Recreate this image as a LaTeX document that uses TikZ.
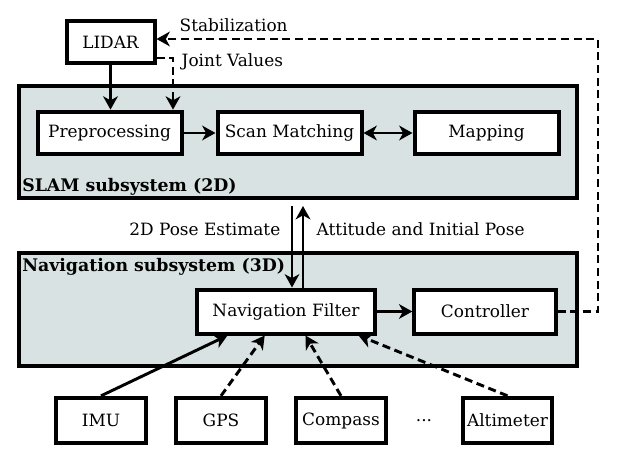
\documentclass[tikz,border=0pt]{standalone}
\usepackage{fontspec}
\setmainfont{DejaVu Serif}
\usetikzlibrary{arrows.meta}
\definecolor{subfill}{RGB}{216,226,226}
\begin{document}
\begin{tikzpicture}[x=0.75pt,y=-0.75pt,
  txt/.style={font=\fontsize{12.7}{15}\selectfont},
  box/.style={draw, line width=3pt, fill=white, inner sep=0pt, txt},
  group/.style={draw, line width=3pt, fill=subfill, inner sep=0pt},
  grouplbl/.style={anchor=base west, inner sep=0pt, font=\fontsize{13}{15}\selectfont\bfseries},
  tip/.tip={Stealth[length=10pt,width=11pt,inset=3pt]},
  arr/.style={line width=2.2pt, -tip},
  darr/.style={line width=2.2pt, tip-tip},
  dsh/.style={dash pattern=on 6pt off 3.5pt}]
\useasboundingbox (0,0) rectangle (639,474);
% containers
\node[group, minimum width=419pt, minimum height=84pt] (slam) at (298,142.5) {};
\node[grouplbl] (slamlbl) at (22,191) {SLAM subsystem (2D)};
\node[group, minimum width=419pt, minimum height=85pt] (navsys) at (298,309.5) {};
\node[grouplbl] (navlbl) at (22,271) {Navigation subsystem (3D)};
% boxes
\node[box, minimum width=66pt, minimum height=31pt] (lidar) at (110.5,42) {LIDAR};
\node[box, minimum width=108pt, minimum height=32pt] (pre) at (109.5,133) {Preprocessing};
\node[box, minimum width=108pt, minimum height=32pt] (scan) at (289.5,133) {Scan Matching};
\node[box, minimum width=108pt, minimum height=32pt] (map) at (486.5,133) {Mapping};
\node[box, minimum width=134pt, minimum height=33pt] (nav) at (286,311.5) {Navigation Filter};
\node[box, minimum width=106pt, minimum height=33pt] (ctrl) at (485,311.5) {Controller};
\node[box, minimum width=67pt, minimum height=34pt] (imu) at (101,420.5) {IMU};
\node[box, minimum width=67pt, minimum height=34pt] (gps) at (221,420.5) {GPS};
\node[box, minimum width=67pt, minimum height=34pt] (comp) at (341,420.5) {Compass};
\node[box, minimum width=67pt, minimum height=34pt] (alt) at (507.5,420.5) {Altimeter};
\node[txt] (dots) at (424,421) {...};
% connectors
\draw[arr] (lidar) -- (lidar |- pre.north);
\coordinate (jv) at (173,58);
\draw[arr,dsh] (lidar.east |- jv) -- (jv) -- (jv |- pre.north);
\node[txt, anchor=west] (jvlbl) at (177,62) {Joint Values};
\coordinate (st) at (598,39);
\draw[arr,dsh] (ctrl.east) -- (ctrl.east -| st) -- (st) -- (lidar.east |- st);
\node[txt, anchor=west] (stlbl) at (175,25) {Stabilization};
\draw[arr] (pre) -- (scan);
\draw[darr] (scan) -- (map);
\draw[arr] (nav) -- (ctrl);
\coordinate (pd) at (292,206);
\coordinate (pu) at (303,206);
\draw[arr] (pd) -- (pd |- nav.north);
\draw[arr] (pu |- nav.north) -- (pu);
\node[txt, anchor=east] (pdlbl) at (285,229) {2D Pose Estimate};
\node[txt, anchor=west] (pulbl) at (312,229) {Attitude and Initial Pose};
\draw[arr] (imu.north) -- ([xshift=-43.9pt]nav.south);
\draw[arr,dsh] (gps.north) -- ([xshift=-16pt]nav.south);
\draw[arr,dsh] (comp.north) -- ([xshift=14.6pt]nav.south);
\draw[arr,dsh] (alt.north) -- ([xshift=54.4pt]nav.south);
\end{tikzpicture}
\end{document}
